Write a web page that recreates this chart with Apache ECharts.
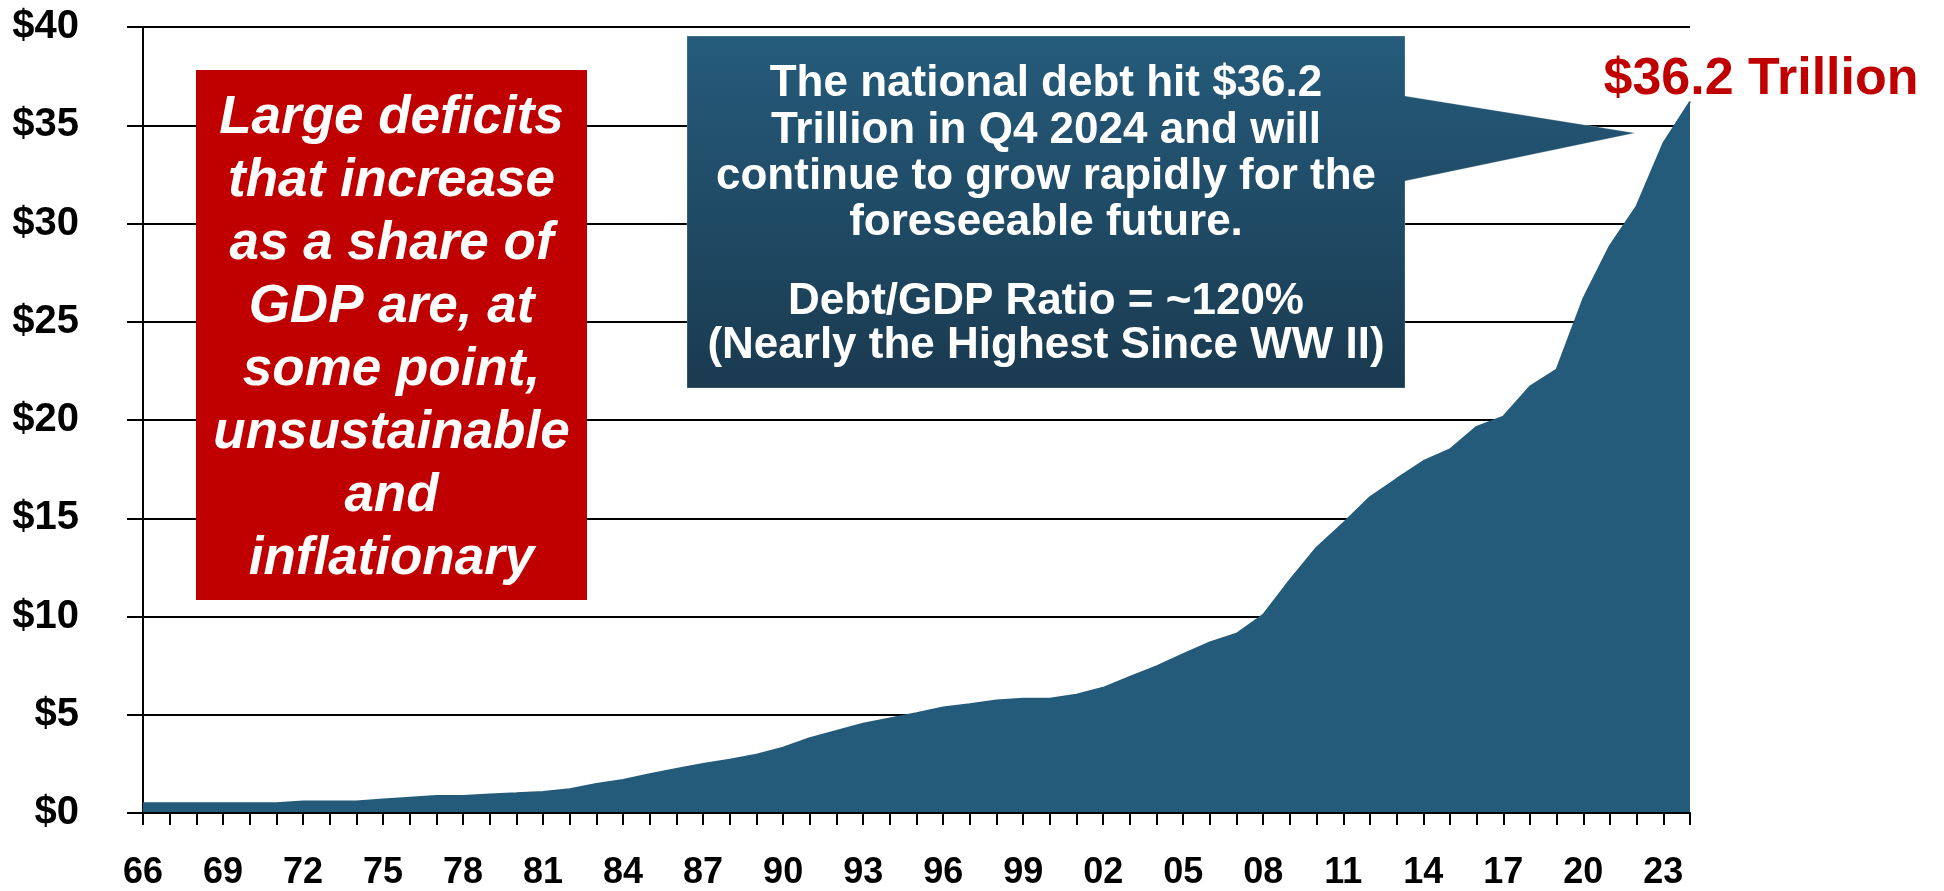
<!DOCTYPE html>
<html>
<head>
<meta charset="utf-8">
<script src="https://cdn.jsdelivr.net/npm/echarts@6/dist/echarts.min.js"></script>
<style>
  html, body { margin: 0; padding: 0; background: #ffffff; }
  #chart { width: 1944px; height: 891px; }
</style>
</head>
<body>
<div id="chart"></div>
<script>
// Fiscal years (two-digit labels), 1966 through 2024
const years = [
  '66','67','68','69','70','71','72','73','74','75',
  '76','77','78','79','80','81','82','83','84','85',
  '86','87','88','89','90','91','92','93','94','95',
  '96','97','98','99','00','01','02','03','04','05',
  '06','07','08','09','10','11','12','13','14','15',
  '16','17','18','19','20','21','22','23','24'
];

// Total federal debt, trillions of dollars
const debt = [
  0.49, 0.49, 0.49, 0.49, 0.49, 0.49, 0.59, 0.59, 0.59, 0.69,
  0.78, 0.87, 0.87, 0.94, 1.00, 1.07, 1.21, 1.48, 1.68, 1.97,
  2.24, 2.50, 2.71, 2.97, 3.32, 3.81, 4.17, 4.54, 4.81, 5.08,
  5.37, 5.54, 5.73, 5.81, 5.81, 6.02, 6.37, 6.92, 7.46, 8.08,
  8.68, 9.12, 10.08, 11.85, 13.50, 14.75, 16.07, 17.00, 17.90, 18.50,
  19.65, 20.17, 21.70, 22.56, 26.17, 28.87, 30.88, 34.08, 36.20
];

// Value axis range
const yMin = 0;
const yMax = 40;
const yStep = 5;

// Annotation text
const warningLines = [
  'Large deficits', 'that increase', 'as a share of', 'GDP are, at',
  'some point,', 'unsustainable', 'and', 'inflationary'
];
const calloutLines = [
  'The national debt hit $36.2',
  'Trillion in Q4 2024 and will',
  'continue to grow rapidly for the',
  'foreseeable future.'
];
const ratioLines = [
  'Debt/GDP Ratio = ~120%',
  '(Nearly the Highest Since WW II)'
];

const AREA = '#245B7A';
const RED = '#C00000';
const FONT = '"Liberation Sans", Arial, sans-serif';

const last = debt.length - 1;
const seriesData = debt.map(function (v, i) {
  if (i !== last) return v;
  return {
    value: v,
    symbol: 'circle',
    symbolSize: 1,
    itemStyle: { color: AREA },
    label: {
      show: true,
      position: 'top',
      distance: 5,
      offset: [71, 9],
      formatter: function (p) { return '$' + Number(p.value).toFixed(1) + ' Trillion'; },
      color: RED,
      fontFamily: FONT,
      fontWeight: 'bold',
      fontSize: 52
    }
  };
});

const chart = echarts.init(document.getElementById('chart'), null, { renderer: 'canvas' });

chart.setOption({
  animation: false,
  backgroundColor: '#ffffff',
  grid: { left: 143, right: 254, top: 27, bottom: 71, containLabel: false },
  xAxis: {
    type: 'category',
    data: years,
    boundaryGap: false,
    z: 3,
    axisLine: { show: true, lineStyle: { color: '#000', width: 2 } },
    axisTick: { show: true, interval: 0, length: 12, lineStyle: { color: '#000', width: 2 } },
    axisLabel: {
      interval: 2,
      margin: 42,
      color: '#000',
      fontFamily: FONT,
      fontWeight: 'bold',
      fontSize: 36
    },
    splitLine: { show: false }
  },
  yAxis: {
    type: 'value',
    min: yMin,
    max: yMax,
    interval: yStep,
    axisLine: { show: true, lineStyle: { color: '#000', width: 2 } },
    axisTick: { show: true, length: 16, lineStyle: { color: '#000', width: 2 } },
    splitLine: { show: true, lineStyle: { color: '#000', width: 2 } },
    axisLabel: {
      margin: 64,
      color: '#000',
      fontFamily: FONT,
      fontWeight: 'bold',
      fontSize: 40,
      formatter: function (v) { return '$' + v; }
    }
  },
  series: [{
    type: 'line',
    data: seriesData,
    symbol: 'none',
    showSymbol: true,
    smooth: false,
    silent: true,
    lineStyle: { color: AREA, width: 2 },
    areaStyle: { color: AREA, opacity: 1 },
    z: 2
  }],
  graphic: [
    // red warning box
    {
      type: 'rect',
      z: 100,
      shape: { x: 196, y: 70, width: 391, height: 530 },
      style: { fill: RED }
    },
    {
      type: 'text',
      z: 101,
      x: 391.5,
      y: 87,
      style: {
        text: warningLines.join('\n'),
        fill: '#ffffff',
        fontFamily: FONT,
        fontWeight: 'bold',
        fontStyle: 'italic',
        fontSize: 53,
        lineHeight: 63,
        textAlign: 'center',
        textVerticalAlign: 'top'
      }
    },
    // callout with pointer toward the latest value
    {
      type: 'polygon',
      z: 100,
      shape: {
        points: [
          [687, 36], [1405, 36], [1405, 96], [1635, 133],
          [1405, 181], [1405, 388], [687, 388]
        ]
      },
      style: {
        fill: {
          type: 'linear', x: 0, y: 0, x2: 0, y2: 1, global: false,
          colorStops: [
            { offset: 0, color: '#255B7B' },
            { offset: 1, color: '#1A3A50' }
          ]
        },
        stroke: 'rgba(255,255,255,0.25)',
        lineWidth: 1
      }
    },
    {
      type: 'text',
      z: 101,
      x: 1046,
      y: 61,
      style: {
        text: calloutLines.join('\n'),
        fill: '#ffffff',
        fontFamily: FONT,
        fontWeight: 'bold',
        fontSize: 44,
        lineHeight: 46.3,
        textAlign: 'center',
        textVerticalAlign: 'top'
      }
    },
    {
      type: 'text',
      z: 101,
      x: 1046,
      y: 280,
      style: {
        text: ratioLines.join('\n'),
        fill: '#ffffff',
        fontFamily: FONT,
        fontWeight: 'bold',
        fontSize: 44,
        lineHeight: 44,
        textAlign: 'center',
        textVerticalAlign: 'top'
      }
    }
  ]
});
</script>
</body>
</html>
